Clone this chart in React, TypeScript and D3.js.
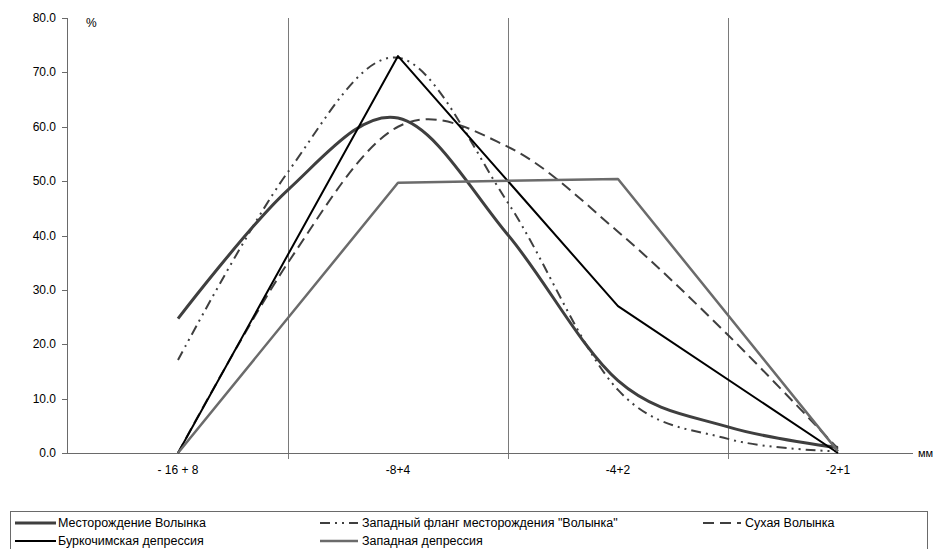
import React from "react";
import * as d3 from "d3";

const categories = ["- 16 + 8", "-8+4", "-4+2", "-2+1"];
const yTicks = [0, 10, 20, 30, 40, 50, 60, 70, 80];
const halfSteps = [0, 0.5, 1, 1.5, 2, 2.5, 3];
const catSteps = [0, 1, 2, 3];

const mestorozhdenie = [24.7, 48.4, 61.6, 40.1, 13.3, 4.8, 1.0];
const zapFlang = [17.1, 51.7, 72.7, 46.0, 11.6, 2.6, 0.3];
const sukhaya = [0, 35.0, 60.0, 56.3, 40.7, 21.7, 0.8];
const burkochim = [0, 73.0, 27.0, 0];
const zapDep = [0, 49.7, 50.4, 0.3];

const names = [
  "Месторождение Волынка",
  'Западный фланг месторождения "Волынка"',
  "Сухая Волынка",
  "Буркочимская депрессия",
  "Западная депрессия",
];

const W = 933;
const H = 549;
const FONT = "'Liberation Sans', Arial, sans-serif";

export default function App() {
  const x = d3.scaleLinear().domain([-0.5, 3.5]).range([68, 948]);
  const y = d3.scaleLinear().domain([0, 80]).range([453, 18]);

  const smooth = d3
    .line<[number, number]>()
    .x((d) => x(d[0]))
    .y((d) => y(d[1]))
    .curve(d3.curveCardinal.tension(0));
  const straight = d3
    .line<[number, number]>()
    .x((d) => x(d[0]))
    .y((d) => y(d[1]));

  const zip = (xs: number[], vs: number[]) =>
    xs.map((v, i) => [v, vs[i]] as [number, number]);

  const series = [
    { d: smooth(zip(halfSteps, mestorozhdenie)), stroke: "#3f3f3f", w: 3, dash: undefined },
    { d: smooth(zip(halfSteps, zapFlang)), stroke: "#3f3f3f", w: 2, dash: "10 5 2 5 2 5" },
    { d: smooth(zip(halfSteps, sukhaya)), stroke: "#3f3f3f", w: 2, dash: "11 6" },
    { d: straight(zip(catSteps, burkochim)), stroke: "#000000", w: 2, dash: undefined },
    { d: straight(zip(catSteps, zapDep)), stroke: "#6b6b6b", w: 2.5, dash: undefined },
  ];

  const gridIdx = [0.5, 1.5, 2.5];
  const axisX0 = 67;
  const axisX1 = 913;

  const legend = [
    { i: 0, lx: 15, tx: 58, ty: 527, sw: 41 },
    { i: 1, lx: 320, tx: 362, ty: 527, sw: 38 },
    { i: 2, lx: 703, tx: 745, ty: 527, sw: 38 },
    { i: 3, lx: 15, tx: 58, ty: 545, sw: 41 },
    { i: 4, lx: 320, tx: 362, ty: 545, sw: 38 },
  ];

  return (
    <svg
      width={W}
      height={H}
      style={{ position: "absolute", left: 0, top: 0, background: "#fff" }}
      fontFamily={FONT}
    >
      <rect x={0} y={0} width={W} height={H} fill="#fff" />
      {gridIdx.map((g) => (
        <line
          key={g}
          x1={Math.round(x(g)) + 0.5}
          x2={Math.round(x(g)) + 0.5}
          y1={y(80)}
          y2={y(0) + 6}
          stroke="#7a7a7a"
          strokeWidth={1}
        />
      ))}
      <line x1={axisX0 + 0.5} x2={axisX0 + 0.5} y1={y(80)} y2={y(0)} stroke="#6a6a6a" />
      {yTicks.map((t) => (
        <g key={t}>
          <line
            x1={axisX0 - 5}
            x2={axisX0}
            y1={Math.round(y(t)) + 0.5}
            y2={Math.round(y(t)) + 0.5}
            stroke="#6a6a6a"
          />
          <text x={56} y={y(t) + 4} textAnchor="end" fontSize={12} fill="#000">
            {t.toFixed(1)}
          </text>
        </g>
      ))}
      <line x1={axisX0} x2={axisX1} y1={Math.round(y(0)) + 0.5} y2={Math.round(y(0)) + 0.5} stroke="#6a6a6a" />
      {categories.map((c, i) => (
        <text key={c} x={x(i)} y={474} textAnchor="middle" fontSize={12} fill="#000">
          {c}
        </text>
      ))}
      <text x={918} y={457} fontSize={11} fill="#000">мм</text>
      <text x={86} y={27} fontSize={12} fill="#000">%</text>

      {series.map((s, i) => (
        <path
          key={i}
          d={s.d || ""}
          fill="none"
          stroke={s.stroke}
          strokeWidth={s.w}
          strokeDasharray={s.dash}
          strokeLinejoin="round"
        />
      ))}

      <rect x={10.5} y={511.5} width={917} height={50} fill="none" stroke="#6a6a6a" />
      {legend.map((l) => {
        const s = series[l.i];
        return (
          <g key={l.i}>
            <line
              x1={l.lx}
              x2={l.lx + l.sw}
              y1={l.ty - 4}
              y2={l.ty - 4}
              stroke={s.stroke}
              strokeWidth={s.w}
              strokeDasharray={s.dash}
            />
            <text x={l.tx} y={l.ty} fontSize={12.5} fill="#000">
              {names[l.i]}
            </text>
          </g>
        );
      })}
    </svg>
  );
}
